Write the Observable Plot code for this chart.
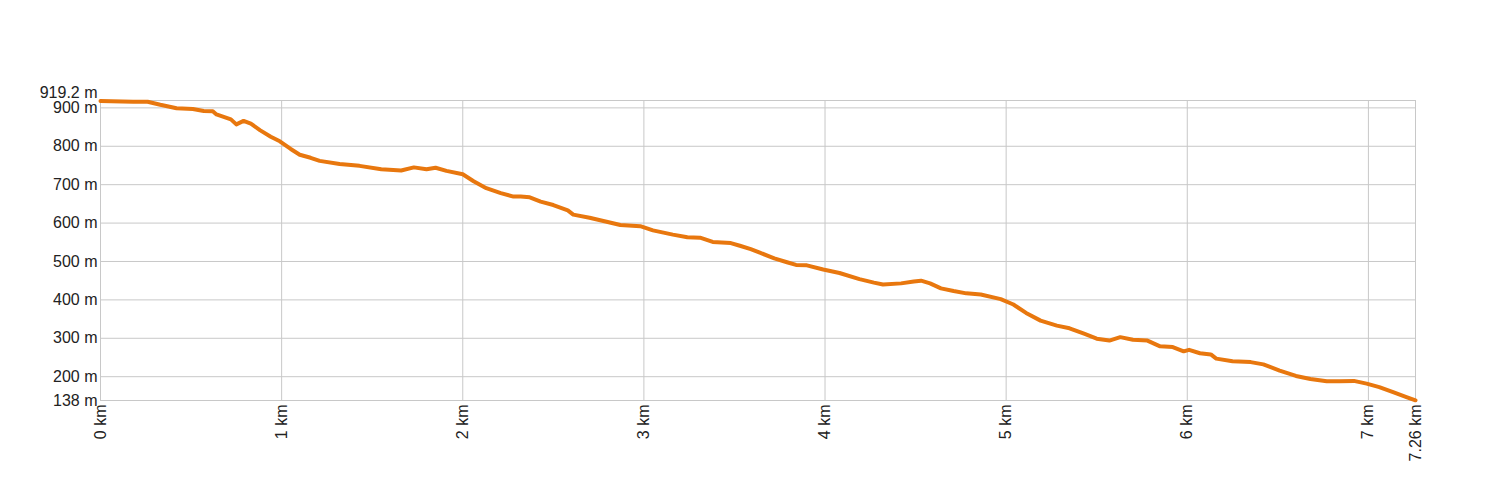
<!DOCTYPE html>
<html>
<head>
<meta charset="utf-8">
<script src="https://cdn.jsdelivr.net/npm/d3@7"></script>
<script src="https://cdn.jsdelivr.net/npm/@observablehq/plot@0.6"></script>
<style>
  html, body { margin: 0; padding: 0; background: #fff; }
</style>
</head>
<body>
<div id="chart"></div>
<script>
const distanceKm = [0.00, 0.18, 0.26, 0.33, 0.42, 0.51, 0.57, 0.62, 0.64, 0.72, 0.75, 0.79, 0.83, 0.88, 0.94, 0.99,
  1.05, 1.10, 1.16, 1.21, 1.32, 1.43, 1.55, 1.66, 1.73, 1.80, 1.85, 1.91, 2.00, 2.06, 2.13, 2.21, 2.28, 2.32, 2.37,
  2.43, 2.50, 2.58, 2.61, 2.70, 2.80, 2.87, 2.98, 3.05, 3.16, 3.24, 3.31, 3.38, 3.48, 3.53, 3.59, 3.64, 3.72, 3.79,
  3.84, 3.90, 3.99, 4.08, 4.19, 4.27, 4.32, 4.42, 4.49, 4.53, 4.58, 4.64, 4.71, 4.78, 4.86, 4.97, 5.04, 5.11, 5.19,
  5.28, 5.35, 5.43, 5.50, 5.57, 5.63, 5.70, 5.78, 5.85, 5.92, 5.98, 6.01, 6.07, 6.13, 6.16, 6.25, 6.35, 6.42, 6.51,
  6.60, 6.68, 6.77, 6.84, 6.92, 6.99, 7.06, 7.14, 7.21, 7.26];
const elevationM = [918, 916, 916, 908, 899, 897, 892, 891, 883, 870, 857, 866, 859, 842, 825, 813,
  793, 778, 770, 762, 754, 749, 740, 737, 745, 740, 744, 736, 727, 709, 691, 678, 669, 669, 667,
  656, 647, 633, 622, 614, 603, 595, 592, 581, 570, 563, 562, 551, 548, 541, 532, 523, 508, 498,
  491, 490, 479, 470, 454, 445, 440, 443, 448, 450, 443, 430, 423, 417, 414, 402, 388, 366, 346,
  333, 326, 312, 299, 294, 303, 296, 294, 279, 277, 266, 270, 261, 258, 247, 240, 238, 232, 216,
  202, 194, 188, 188, 189, 182, 173, 159, 147, 138.5];

const xTicks = [0, 1, 2, 3, 4, 5, 6, 7, 7.26];
const yTicks = [138, 200, 300, 400, 500, 600, 700, 800, 900, 919.2];
const yMin = 138, yMax = 919.2, xMax = 7.26;

const profile = distanceKm.map((d, i) => ({km: d, m: elevationM[i]}));
const yTicksMain = yTicks.filter(t => t !== yMax);

const chart = Plot.plot({
  width: 1500,
  height: 500,
  marginTop: 100,
  marginBottom: 100,
  marginLeft: 100,
  marginRight: 85,
  style: {fontFamily: "'Liberation Sans', Arial, sans-serif", fontSize: "16px", color: "#222", background: "#fff"},
  x: {domain: [0, xMax], axis: null},
  y: {domain: [yMin, yMax], axis: null},
  marks: [
    Plot.gridX(xTicks, {stroke: "#c8c8c8", strokeOpacity: 1, strokeWidth: 1}),
    Plot.gridY(yTicks, {stroke: "#c8c8c8", strokeOpacity: 1, strokeWidth: 1}),
    Plot.line(profile, {x: "km", y: "m", stroke: "#e8770e", strokeWidth: 4, strokeLinejoin: "round"}),
    Plot.text(yTicksMain, {y: d => d, frameAnchor: "left", textAnchor: "end", dx: -3, text: d => `${d} m`, fill: "#222", fontSize: 16}),
    Plot.text([yMax], {y: d => d, frameAnchor: "left", textAnchor: "end", dx: -3, dy: -8, text: d => `${d} m`, fill: "#222", fontSize: 16}),
    Plot.text(xTicks, {x: d => d, frameAnchor: "bottom", rotate: -90, textAnchor: "end", dx: 5, dy: 4, text: d => `${d} km`, fill: "#222", fontSize: 16})
  ]
});
document.getElementById("chart").appendChild(chart);
</script>
</body>
</html>
